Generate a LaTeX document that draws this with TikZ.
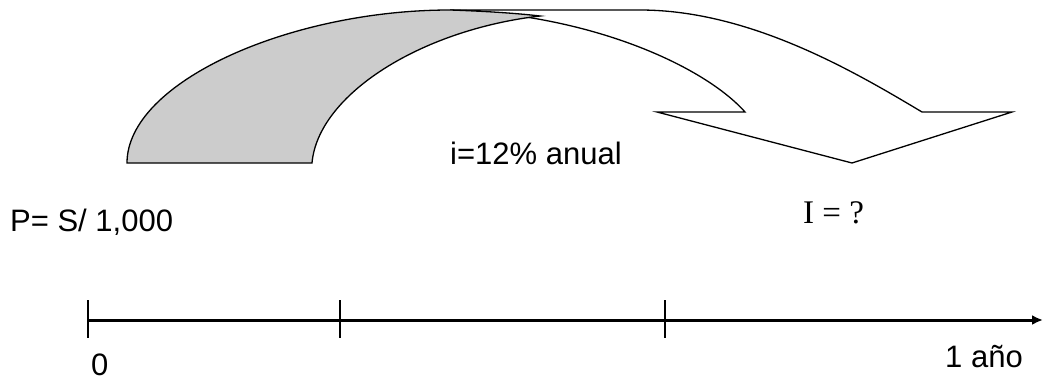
\documentclass[tikz,border=0pt]{standalone}
\usepackage{fontspec}
\setmainfont{Liberation Sans}
\newfontfamily\timesfont{Liberation Serif}
\usetikzlibrary{arrows.meta}
\tikzset{
  shapeline/.style={draw=black, line width=1.3pt, line join=miter},
  lbl/.style={inner sep=0pt, anchor=base west, font=\fontsize{31}{37}\selectfont},
  axis/.style={line width=3pt, -{Latex[length=11pt,width=10pt]}},
  tick/.style={line width=1.3pt},
}
\begin{document}
\begin{tikzpicture}[x=1pt,y=-1pt]
\useasboundingbox (0,0) rectangle (1043,381);
% white arrow body
\filldraw[shapeline, fill=white]
  (450,10) -- (640,10) .. controls (750,10) and (855,72) .. (922,112)
  -- (1012,112) -- (852,163) -- (657,112) -- (745,112)
  .. controls (704,66) and (590,14) .. (450,10) -- cycle;
% shaded back part
\filldraw[shapeline, fill=black!20]
  (127,163) .. controls (127,82) and (290,10) .. (450,10)
  .. controls (480,11) and (515,13) .. (540,16)
  .. controls (420,30) and (318,95) .. (312,163) -- cycle;
% labels
\node[lbl] (p) at (10,231) {P= S/ 1,000};
\node[lbl] (i) at (450,164) {i=12\% anual};
\node[lbl, font=\timesfont\fontsize{33}{39}\selectfont] (q) at (803,223) {I = ?};
\node[lbl] (zero) at (91,375) {0};
\node[lbl] (anio) at (945,367) {1 año};
% timeline
\coordinate (t0) at (88,320);
\coordinate (tend) at (1043,320);
\coordinate (t1a) at (88,300);  \coordinate (t1b) at (88,338);
\coordinate (t2a) at (340,300); \coordinate (t2b) at (340,338);
\coordinate (t3a) at (665,300); \coordinate (t3b) at (665,338);
\draw[axis] (t0) -- (tend);
\draw[tick] (t1a) -- (t1b);
\draw[tick] (t2a) -- (t2b);
\draw[tick] (t3a) -- (t3b);
\end{tikzpicture}
\end{document}
